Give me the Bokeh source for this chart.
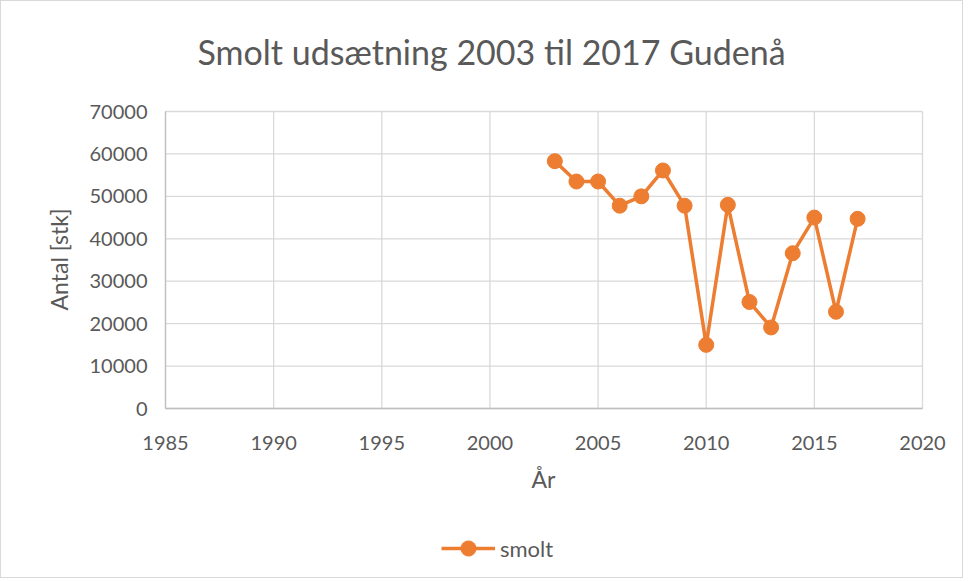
import math
from bokeh.plotting import figure
from bokeh.models import Range1d, FixedTicker, NumeralTickFormatter, Legend, LegendItem, Label
from bokeh.embed import file_html
from bokeh.resources import INLINE

years = [2003, 2004, 2005, 2006, 2007, 2008, 2009, 2010, 2011, 2012, 2013, 2014, 2015, 2016, 2017]
smolt = [58300, 53500, 53500, 47800, 50000, 56100, 47800, 15000, 48000, 25100, 19100, 36600, 45000, 22800, 44700]
x_ticks = [1985, 1990, 1995, 2000, 2005, 2010, 2015, 2020]
y_ticks = [0, 10000, 20000, 30000, 40000, 50000, 60000, 70000]

FONT = "Lato"
GREY = "#595959"
ORANGE = "#ED7D31"
GRID = "#d9d9d9"

X0, X1 = 1985, 2020
Y0, Y1 = 0, 70000
W, H = 963, 578
TOP = 90          # frame top; the 70000 line sits 20 px lower
PAD_TOP = 20
PX_Y = 297.0 / (Y1 - Y0)
PX_X = 757.0 / (X1 - X0)
# the plot frame covers the whole figure below the title, so the axes, labels
# and legend can all be drawn inside it
y_max = Y1 + PAD_TOP / PX_Y
y_min = Y0 - (H - TOP - PAD_TOP - 297) / PX_Y
x_min = X0 - 164 / PX_X
x_max = X1 + (W - 921) / PX_X

p = figure(width=W, height=H, output_backend="svg", toolbar_location=None,
           x_range=Range1d(x_min, x_max), y_range=Range1d(y_min, y_max),
           min_border_left=0, min_border_right=0, min_border_top=TOP, min_border_bottom=0)
p.styles = {"border": "1px solid #d9d9d9"}

p.title.text = "Smolt udsætning 2003 til 2017 Gudenå"
p.title.text_font = FONT
p.title.text_font_size = "34px"
p.title.text_font_style = "normal"
p.title.text_color = GREY
p.title.align = "left"
p.title.offset = 196
p.title.standoff = 40

p.outline_line_color = None
p.xgrid.visible = False
p.ygrid.visible = False
# grid lines limited to the value ranges
p.segment(x0=x_ticks, y0=[Y0] * len(x_ticks), x1=x_ticks, y1=[Y1] * len(x_ticks),
          line_color=GRID, line_width=1.3)
p.segment(x0=[X0] * len(y_ticks), y0=y_ticks, x1=[X1] * len(y_ticks), y1=y_ticks,
          line_color=GRID, line_width=1.3)

p.xaxis.ticker = FixedTicker(ticks=x_ticks)
p.yaxis.ticker = FixedTicker(ticks=y_ticks)
p.yaxis.formatter = NumeralTickFormatter(format="0")
p.xaxis.fixed_location = Y0
p.yaxis.fixed_location = X0
p.xaxis.bounds = (X0, X1)
p.yaxis.bounds = (Y0, Y1)
for ax in (p.xaxis, p.yaxis):
    ax.major_tick_line_color = None
    ax.minor_tick_line_color = None
    ax.major_tick_out = 0
    ax.major_tick_in = 0
    ax.axis_line_color = "#bfbfbf"
    ax.axis_line_width = 1.3
    ax.major_label_text_font = FONT
    ax.major_label_text_font_size = "20px"
    ax.major_label_text_color = GREY
p.xaxis.major_label_standoff = 27
p.yaxis.major_label_standoff = 18

p.add_layout(Label(x=542, y=101, x_units="screen", y_units="screen", text="År",
                   text_font=FONT, text_font_size="23px", text_color=GREY,
                   text_align="center", text_baseline="middle"))
p.add_layout(Label(x=57, y=320, x_units="screen", y_units="screen", text="Antal [stk]",
                   angle=math.pi / 2, text_font=FONT, text_font_size="23px", text_color=GREY,
                   text_align="center", text_baseline="middle"))

r_line = p.line(years, smolt, line_color=ORANGE, line_width=3.5)
r_pts = p.scatter(years, smolt, size=15, fill_color=ORANGE, line_color=ORANGE)

legend = Legend(items=[LegendItem(label="smolt", renderers=[r_line, r_pts])],
                orientation="horizontal", location=(440, 12),
                label_text_font=FONT, label_text_font_size="22px", label_text_color=GREY,
                border_line_color=None, background_fill_alpha=0,
                glyph_width=54, glyph_height=38, padding=0, margin=0,
                label_standoff=5)
p.add_layout(legend)

open("out.html", "w").write(file_html(p, INLINE))
